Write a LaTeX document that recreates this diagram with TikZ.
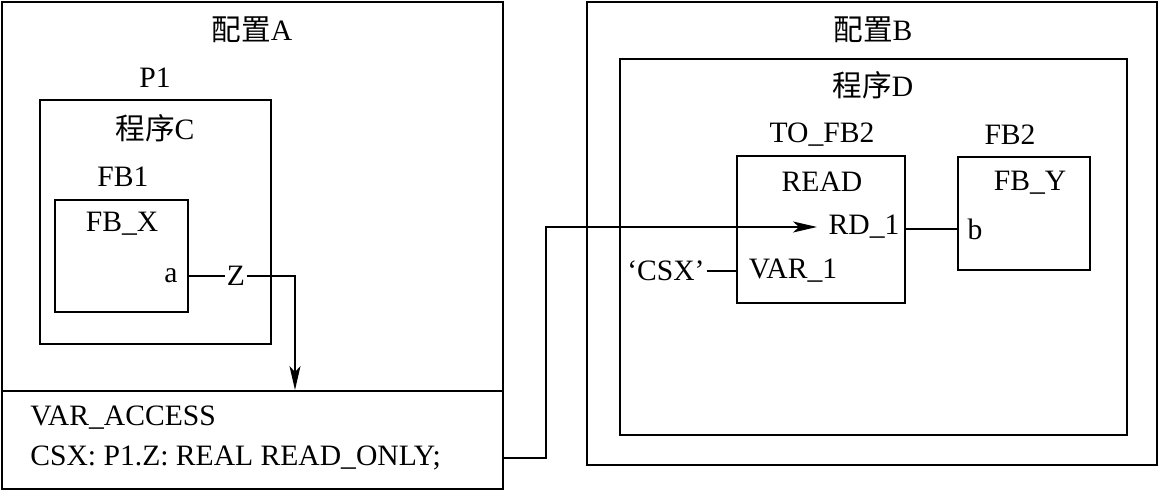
\documentclass[tikz,border=0pt]{standalone}
\usepackage{fontspec}
\setmainfont{Liberation Serif}
\newfontfamily\cjk{Noto Sans CJK SC}
\usetikzlibrary{arrows.meta,positioning}

\begin{document}
\begin{tikzpicture}[
  x=0.5pt, y=-0.5pt,
  font=\fontsize{14.8}{17}\selectfont,
  frame/.style={draw, line width=1pt, inner sep=0pt},
  lbl/.style={inner sep=1pt},
  wire/.style={line width=0.7pt},
  arr/.style={wire, -{Stealth[length=12pt, width=5.5pt, inset=3pt]}}
]
\useasboundingbox (0,0) rectangle (1161,491);

\node[frame, minimum width=250.5pt, minimum height=243.5pt] (cfga) at (252.5,245.5) {};
\node[frame, minimum width=250.5pt, minimum height=49pt] (vaccess) at (252.5,440) {};
\node[frame, minimum width=115.5pt, minimum height=122pt] (p1) at (155.5,222) {};
\node[frame, minimum width=66.5pt, minimum height=56pt] (fbx) at (121.5,256) {};

\node[frame, minimum width=285pt, minimum height=231.5pt] (cfgb) at (872,233.5) {};
\node[frame, minimum width=253.5pt, minimum height=188pt] (progd) at (873.5,247) {};
\node[frame, minimum width=84pt, minimum height=73.5pt] (read) at (821,229.5) {};
\node[frame, minimum width=66pt, minimum height=56.5pt] (fby) at (1024,213.5) {};

\node[lbl] (tcfga) at (252,30) {{\cjk 配置}A};
\node[lbl] (tp1) at (155,78) {P1};
\node[lbl] (tprogc) at (155,128) {{\cjk 程序}C};
\node[lbl] (tfb1) at (123,177) {FB1};
\node[lbl] (tfbx) at (122,224) {FB\_X};
\node[lbl, anchor=east] (a) at (180,276) {a};
\node[lbl] (z) at (236,276) {Z};
\node[lbl, anchor=west] (tva) at (28,418) {VAR\_ACCESS};
\node[lbl, anchor=west] (tcsx) at (28,458) {CSX: P1.Z: REAL READ\_ONLY;};

\node[lbl] (tcfgb) at (873,30) {{\cjk 配置}B};
\node[lbl] (tprogd) at (873,85) {{\cjk 程序}D};
\node[lbl] (ttofb2) at (822,135) {TO\_FB2};
\node[lbl] (tfb2) at (1010,135) {FB2};
\node[lbl] (tread) at (822,182) {READ};
\node[lbl] (rd) at (864,227) {RD\_1};
\node[lbl] (var) at (793,271) {VAR\_1};
\node[lbl, anchor=east] (lit) at (707,271) {`CSX'};
\node[lbl] (tfby) at (1030,183) {FB\_Y};
\node[lbl] (b) at (975,229) {b};

\coordinate (zdown) at (295,390);
\coordinate (bend) at (546,458);
\coordinate (rdin) at (817,227);

\draw[wire] (fbx.east |- a) -- (z.west);
\draw[arr] (z.east) -| (zdown);
\draw[arr] (vaccess.east |- bend) -- (bend) |- (rdin);
\draw[wire] (read.east |- b) -- (fby.west |- b);
\draw[wire] (lit.east) -- (read.west |- lit);

\end{tikzpicture}
\end{document}
